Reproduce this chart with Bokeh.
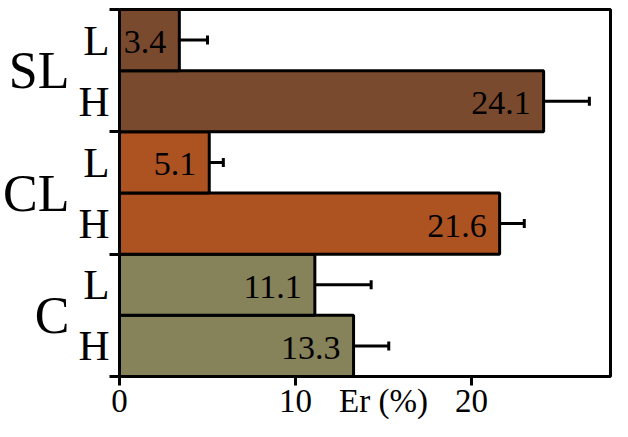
from bokeh.plotting import figure
from bokeh.models import (Range1d, LinearAxis, FixedTicker, Whisker, TeeHead, ColumnDataSource)
from bokeh.core.properties import value
from bokeh.embed import file_html
from bokeh.resources import INLINE

# ---- data ----
groups = ["C", "C", "CL", "CL", "SL", "SL"]
levels = ["H", "L", "H", "L", "H", "L"]
er = [13.3, 11.1, 21.6, 5.1, 24.1, 3.4]
sd = [2.0, 3.2, 1.4, 0.8, 2.6, 1.6]
group_colors = {"C": "#86825A", "CL": "#AD5221", "SL": "#7A4A2E"}
group_names = ["C", "CL", "SL"]
x_ticks = [0, 10, 20]
x_label = "Er (%)"
x_label_at = 15

FONT = "Liberation Serif"

n = len(levels)
ypos = [i + 0.5 for i in range(n)]            # centre of each bar slot
src = ColumnDataSource(dict(
    y=ypos,
    er=er,
    hi=[v + s for v, s in zip(er, sd)],
    color=[group_colors[g] for g in groups],
    txt=[f"{v:.1f}" for v in er],
))

p = figure(width=612, height=421,
           y_range=Range1d(0, n), x_range=Range1d(0, 27.9),
           output_backend="svg", toolbar_location=None,
           x_axis_location=None, y_axis_location=None,
           min_border=0, min_border_top=9, min_border_right=2, min_border_bottom=0)
p.grid.visible = False
p.outline_line_color = "black"
p.outline_line_width = 3
p.outline_line_alpha = 1

# sub-level labels (H/L) with ticks at the group boundaries
bounds = [i * 2 for i in range(len(group_names) + 1)]
sub_axis = LinearAxis(ticker=FixedTicker(ticks=ypos, minor_ticks=bounds),
                      major_label_overrides={y: l for y, l in zip(ypos, levels)},
                      major_tick_out=0, major_tick_in=0,
                      minor_tick_out=10, minor_tick_in=0, minor_tick_line_width=3,
                      minor_tick_line_color="black",
                      axis_line_width=3, major_label_standoff=0,
                      major_label_text_font=FONT, major_label_text_font_size="43px",
                      major_label_text_color="black")
p.add_layout(sub_axis, "left")

gcent = [2 * i + 1 for i in range(len(group_names))]
grp_axis = LinearAxis(ticker=FixedTicker(ticks=gcent, minor_ticks=[]),
                      major_label_overrides={c: g for c, g in zip(gcent, group_names)},
                      major_tick_line_color=None, minor_tick_line_color=None,
                      axis_line_color=None, major_label_standoff=0,
                      major_label_text_font=FONT, major_label_text_font_size="52px",
                      major_label_text_color="black")
p.add_layout(grp_axis, "left")

# x axis: visible ticks are minor ticks, the axis title sits among the tick labels
xmaj = sorted(x_ticks + [x_label_at])
xaxis = LinearAxis(ticker=FixedTicker(ticks=xmaj, minor_ticks=x_ticks),
                   major_label_overrides={x_label_at: x_label},
                   major_tick_out=0, major_tick_in=0,
                   minor_tick_out=9, minor_tick_in=0, minor_tick_line_width=3,
                   minor_tick_line_color="black", axis_line_width=3,
                   major_label_text_font=FONT, major_label_text_font_size="33px",
                   major_label_text_color="black", major_label_standoff=-3)
p.add_layout(xaxis, "below")

p.hbar(y="y", left=0, right="er", height=1.0, source=src,
       fill_color="color", line_color="black", line_width=3)

p.add_layout(Whisker(base="y", lower="er", upper="hi", dimension="width", source=src,
                     line_color="black", line_width=3, lower_head=None,
                     upper_head=TeeHead(size=9, line_width=3, line_color="black")))

p.text(x="er", y="y", text="txt", source=src, text_align="right", text_baseline="middle",
       x_offset=-13, y_offset=2, text_font=value(FONT), text_font_size="34px", text_color="black")

open("out.html", "w").write(file_html(p, INLINE))
